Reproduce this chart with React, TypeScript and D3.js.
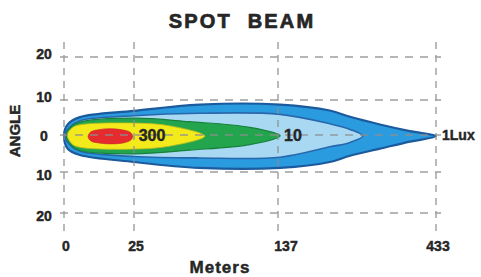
import React from "react";
import * as d3 from "d3";

// distance ticks (meters) and angle ticks (degrees)
const xTicks = [0, 25, 137, 433];
const yTicks = [20, 10, 0, -10, -20];

// beam contours: [meters, upper angle, lower angle]
const blueZone: [number, number, number][] = [
  [0, 0, 0],
  [1.4, 3.1, -3.8],
  [5.7, 5.1, -5.4],
  [25, 6.9, -7.3],
  [76, 8.7, -8.9],
  [141, 8.7, -8.9],
  [234, 7.0, -7.3],
  [272, 5.2, -5.6],
  [328, 3.0, -3.7],
  [384, 1.1, -1.8],
  [433, -0.3, -0.3],
];
const skyZone: [number, number, number][] = [
  [0.3, 0, 0],
  [2.1, 2.3, -2.7],
  [5.7, 4.1, -4.4],
  [25, 5.5, -5.8],
  [76, 6.2, -6.2],
  [141, 5.9, -6.0],
  [234, 3.2, -3.2],
  [272, 1.6, -2.0],
  [296, -0.3, -0.3],
];
const greenZone: [number, number, number][] = [
  [0.8, 0, 0],
  [2.9, 2.6, -3.0],
  [5.7, 3.7, -4.2],
  [25, 4.8, -5.1],
  [68, 3.8, -4.1],
  [115, 2.2, -2.6],
  [141, -0.2, -0.2],
];
const yellowZone: [number, number, number][] = [
  [1.2, 0, 0],
  [2.9, 2.0, -2.4],
  [5.7, 2.9, -3.3],
  [25, 3.4, -3.8],
  [53, 2.6, -3.0],
  [80, -0.3, -0.3],
];
const redZone: [number, number, number][] = [
  [8.6, -0.4, -0.4],
  [9.6, 0.9, -1.6],
  [12.9, 1.6, -2.2],
  [16.4, 1.8, -2.4],
  [20.7, 1.5, -2.2],
  [23.6, 0.8, -1.5],
  [24.6, -0.4, -0.4],
];

const luxLabels = [
  { text: "300", m: 39, anchor: "middle" },
  { text: "10", m: 165, anchor: "middle" },
  { text: "1Lux", m: 433, anchor: "start" },
];

const zones = [
  { pts: blueZone, fill: "#2b9be0", stroke: "#1b5a9c", sw: 2.2 },
  { pts: skyZone, fill: "#a9d8f2", stroke: "#2768ad", sw: 1.6 },
  { pts: greenZone, fill: "#23a54e", stroke: "#17813c", sw: 1.2 },
  { pts: yellowZone, fill: "#f3ea1c", stroke: "#c8bf1a", sw: 0.8 },
  { pts: redZone, fill: "#e52b2e", stroke: "#c0282a", sw: 0.6 },
];

const font = "'Liberation Sans', Arial, sans-serif";

const App: React.FC = () => {
  const width = 481;
  const height = 277;

  const x = d3.scaleLinear().domain(xTicks).range([64, 134, 278, 436]);
  const y = d3.scaleLinear().domain(yTicks).range([57, 100, 135, 172, 213]);

  const outline = d3
    .line<[number, number]>()
    .curve(d3.curveCatmullRomClosed.alpha(0.5));

  const zonePath = (pts: [number, number, number][]) => {
    const top = pts.map((p) => [x(p[0]), y(p[1])] as [number, number]);
    const bottom = pts
      .slice(1, -1)
      .reverse()
      .map((p) => [x(p[0]), y(p[2])] as [number, number]);
    return outline([...top, ...bottom]) || "";
  };

  const gridColor = "#8e8e8e";
  const ink = "#262626";

  return (
    <svg
      width={width}
      height={height}
      style={{ position: "absolute", left: 0, top: 0, background: "#fff" }}
    >
      {/* beam */}
      {zones.map((z, i) => (
        <path
          key={i}
          d={zonePath(z.pts)}
          fill={z.fill}
          stroke={z.stroke}
          strokeWidth={z.sw}
        />
      ))}

      {/* grid, drawn over the beam */}
      <g stroke={gridColor} strokeWidth={1.4} opacity={0.85}>
        {yTicks.map((t) => (
          <line
            key={"h" + t}
            x1={60}
            x2={441}
            y1={y(t)}
            y2={y(t)}
            strokeDasharray="8,7"
          />
        ))}
        {xTicks.map((t) => (
          <line
            key={"v" + t}
            x1={x(t)}
            x2={x(t)}
            y1={42}
            y2={231}
            strokeDasharray="7,6"
          />
        ))}
      </g>

      <g fontFamily={font} fontWeight="bold" fill={ink} stroke={ink} strokeWidth={0.45}>
        {/* contour labels */}
        {luxLabels.map((l) => (
          <text
            key={l.text}
            x={l.anchor === "start" ? x(l.m) + 6 : x(l.m)}
            y={y(0)}
            dy="0.36em"
            textAnchor={l.anchor}
            fontSize={l.anchor === "start" ? 14 : 16}
          >
            {l.text}
          </text>
        ))}

        {/* title */}
        <text
          x={242}
          y={28}
          textAnchor="middle"
          fontSize={20}
          letterSpacing={2.2}
          wordSpacing={8}
          strokeWidth={0.7}
        >
          SPOT BEAM
        </text>

        {/* y tick labels */}
        {yTicks.map((t) => (
          <text
            key={"yl" + t}
            x={44}
            y={y(t) + (t > 0 ? -3 : t < 0 ? 3 : 1)}
            dy="0.36em"
            textAnchor="middle"
            fontSize={14}
          >
            {Math.abs(t)}
          </text>
        ))}

        {/* x tick labels */}
        {xTicks.map((t) => (
          <text
            key={"xl" + t}
            x={x(t) + (t === 137 ? 8 : 2)}
            y={251}
            textAnchor="middle"
            fontSize={14}
          >
            {t}
          </text>
        ))}

        {/* axis titles */}
        <text x={220} y={273} textAnchor="middle" fontSize={17} letterSpacing={1}>
          Meters
        </text>
        <text
          transform="translate(15,131) rotate(-90)"
          textAnchor="middle"
          dy="0.36em"
          fontSize={15}
        >
          ANGLE
        </text>
      </g>
    </svg>
  );
};

export default App;
